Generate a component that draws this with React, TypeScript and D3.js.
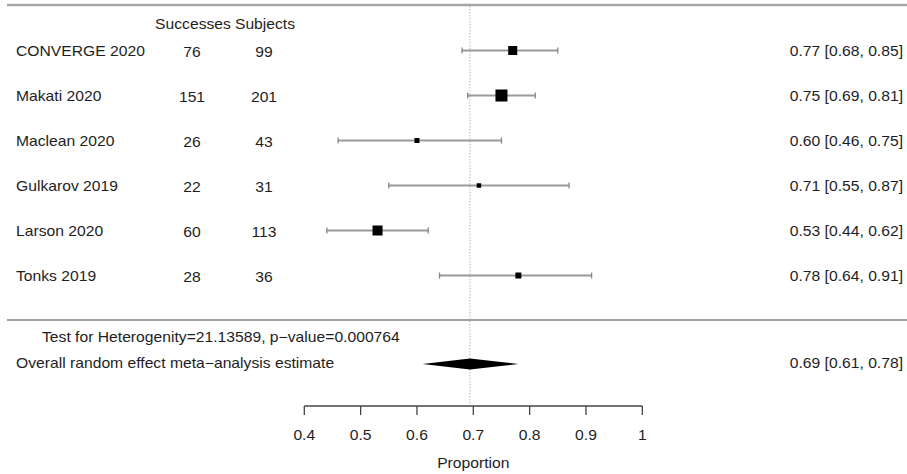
import React from "react";
import * as d3 from "d3";

const studies = ["CONVERGE 2020", "Makati 2020", "Maclean 2020", "Gulkarov 2019", "Larson 2020", "Tonks 2019"];
const successes = [76, 151, 26, 22, 60, 28];
const subjects = [99, 201, 43, 31, 113, 36];
const estimates = [0.77, 0.75, 0.6, 0.71, 0.53, 0.78];
const lowers = [0.68, 0.69, 0.46, 0.55, 0.44, 0.64];
const uppers = [0.85, 0.81, 0.75, 0.87, 0.62, 0.91];
const weights = [18, 24, 10, 9, 20, 12];
const ciLabels = ["0.77 [0.68, 0.85]", "0.75 [0.69, 0.81]", "0.60 [0.46, 0.75]", "0.71 [0.55, 0.87]", "0.53 [0.44, 0.62]", "0.78 [0.64, 0.91]"];

const overallEst = 0.694;
const overallLo = 0.61;
const overallHi = 0.78;
const overallLabel = "0.69 [0.61, 0.78]";
const hetText = "Test for Heterogenity=21.13589, p\u2212value=0.000764";
const overallText = "Overall random effect meta\u2212analysis estimate";
const tickValues = [0.4, 0.5, 0.6, 0.7, 0.8, 0.9, 1];
const tickLabels = ["0.4", "0.5", "0.6", "0.7", "0.8", "0.9", "1"];
const xTitle = "Proportion";
const colHeaders = ["Successes", "Subjects"];

const W = 907;
const H = 474;
const SX = 1.12;
const FONT = "'Liberation Sans', Arial, Helvetica, sans-serif";
const TXT = "#1e1e1e";

function T({ x, y, anchor = "start", children }: { x: number; y: number; anchor?: string; children: any }) {
  return (
    <text
      transform={`translate(${x},${y}) scale(${SX},1)`}
      textAnchor={anchor}
      fontFamily={FONT}
      fontSize={14}
      fill={TXT}
    >
      {children}
    </text>
  );
}

export default function App() {
  const x = d3.scaleLinear().domain([0.4, 1]).range([304.3, 642.3]);
  const y = d3.scalePoint<string>().domain(studies).range([50.5, 275.5]);
  const side = d3.scaleLinear().domain([0, 24]).range([0, 12]);
  const axisY = 406;
  const overallY = 364;
  const diamond = d3.line()([
    [x(overallLo), overallY],
    [x(overallEst), overallY - 5.5],
    [x(overallHi), overallY],
    [x(overallEst), overallY + 5.5],
  ]) + "Z";

  return (
    <svg width={W} height={H} style={{ position: "absolute", left: 0, top: 0, background: "#fff" }}>
      <line x1={7} x2={W} y1={5} y2={5} stroke="#a6a6a6" strokeWidth={2.5} />
      <line x1={7} x2={W} y1={320} y2={320} stroke="#a0a0a0" strokeWidth={2} />
      <line x1={x(overallEst)} x2={x(overallEst)} y1={6} y2={axisY} stroke="#c4c4c4" strokeWidth={1.2} strokeDasharray="1.5,1.5" />

      <T x={193} y={29} anchor="middle">{colHeaders[0]}</T>
      <T x={265} y={29} anchor="middle">{colHeaders[1]}</T>

      {studies.map((s, i) => {
        const cy = y(s)!;
        const sz = side(weights[i]);
        return (
          <g key={s}>
            <T x={16} y={cy + 5}>{s}</T>
            <T x={192} y={cy + 6} anchor="middle">{successes[i]}</T>
            <T x={264} y={cy + 6} anchor="middle">{subjects[i]}</T>
            <T x={903} y={cy + 5} anchor="end">{ciLabels[i]}</T>
            <line x1={x(lowers[i])} x2={x(uppers[i])} y1={cy} y2={cy} stroke="#9a9a9a" strokeWidth={2} />
            <line x1={x(lowers[i])} x2={x(lowers[i])} y1={cy - 3} y2={cy + 3} stroke="#888" strokeWidth={1.3} />
            <line x1={x(uppers[i])} x2={x(uppers[i])} y1={cy - 3} y2={cy + 3} stroke="#888" strokeWidth={1.3} />
            <rect x={x(estimates[i]) - sz / 2} y={cy - sz / 2} width={sz} height={sz} fill="#000" />
          </g>
        );
      })}

      <T x={42} y={342}>{hetText}</T>
      <T x={16} y={368}>{overallText}</T>
      <path d={diamond} fill="#000" />
      <T x={903} y={368} anchor="end">{overallLabel}</T>

      <line x1={x(0.4)} x2={x(1)} y1={axisY} y2={axisY} stroke="#444" strokeWidth={1.3} />
      {tickValues.map((t, i) => (
        <g key={t}>
          <line x1={x(t)} x2={x(t)} y1={axisY} y2={axisY + 9} stroke="#444" strokeWidth={1.3} />
          <T x={x(t)} y={440} anchor="middle">{tickLabels[i]}</T>
        </g>
      ))}
      <T x={x(0.7)} y={468} anchor="middle">{xTitle}</T>
    </svg>
  );
}
